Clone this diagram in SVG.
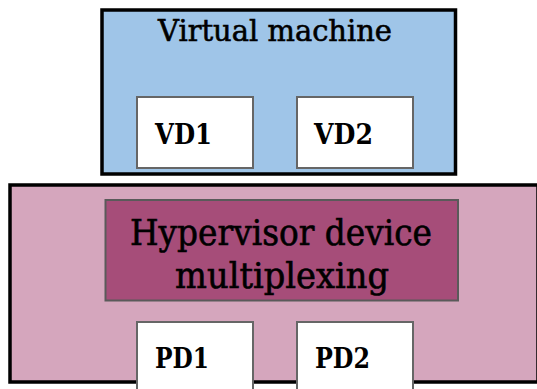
<svg xmlns="http://www.w3.org/2000/svg" width="537" height="389" viewBox="0 0 537 389">
  <style>
    .frame { stroke: #000; stroke-width: 3.5; }
    .dev { fill: #fff; stroke: #666; stroke-width: 2; }
    .title { font-family: "DejaVu Serif", "Liberation Serif", serif; fill: #000; stroke: #000; stroke-width: 0.6; }
    .devlabel { font-family: "DejaVu Serif", "Liberation Serif", serif; font-weight: bold; font-size: 28px; fill: #000; }
  </style>
  <rect width="537" height="389" fill="#fff"/>

  <!-- guest side -->
  <g id="virtual-machine">
    <rect class="frame" x="102" y="10" width="353.5" height="164" fill="#9fc5e8"/>
    <text class="title" x="275" y="41" font-size="29" text-anchor="middle" textLength="234" lengthAdjust="spacingAndGlyphs">Virtual machine</text>
  </g>
  <g id="vd1">
    <rect class="dev" x="137" y="97" width="116" height="71"/>
    <text class="devlabel" x="155" y="144" textLength="57" lengthAdjust="spacingAndGlyphs">VD1</text>
  </g>
  <g id="vd2">
    <rect class="dev" x="297" y="97" width="116" height="71"/>
    <text class="devlabel" x="314" y="144" textLength="59" lengthAdjust="spacingAndGlyphs">VD2</text>
  </g>

  <!-- host side -->
  <g id="host">
    <rect class="frame" x="10" y="185" width="528" height="197" fill="#d5a6bd"/>
  </g>
  <g id="hypervisor">
    <rect x="105.5" y="200" width="352.5" height="100.5" fill="#a64d79" stroke="#5a5a5a" stroke-width="2"/>
    <text class="title" x="281" y="245" font-size="35" text-anchor="middle" textLength="302" lengthAdjust="spacingAndGlyphs">Hypervisor device</text>
    <text class="title" x="282" y="288" font-size="35" text-anchor="middle" textLength="214" lengthAdjust="spacingAndGlyphs">multiplexing</text>
  </g>
  <g id="pd1">
    <rect class="dev" x="137" y="322" width="116" height="80"/>
    <text class="devlabel" x="155" y="368" textLength="54" lengthAdjust="spacingAndGlyphs">PD1</text>
  </g>
  <g id="pd2">
    <rect class="dev" x="297" y="322" width="116" height="80"/>
    <text class="devlabel" x="315" y="368" textLength="55" lengthAdjust="spacingAndGlyphs">PD2</text>
  </g>

  <!-- no connectors in this layered view -->
  <g id="connectors"/>
</svg>
